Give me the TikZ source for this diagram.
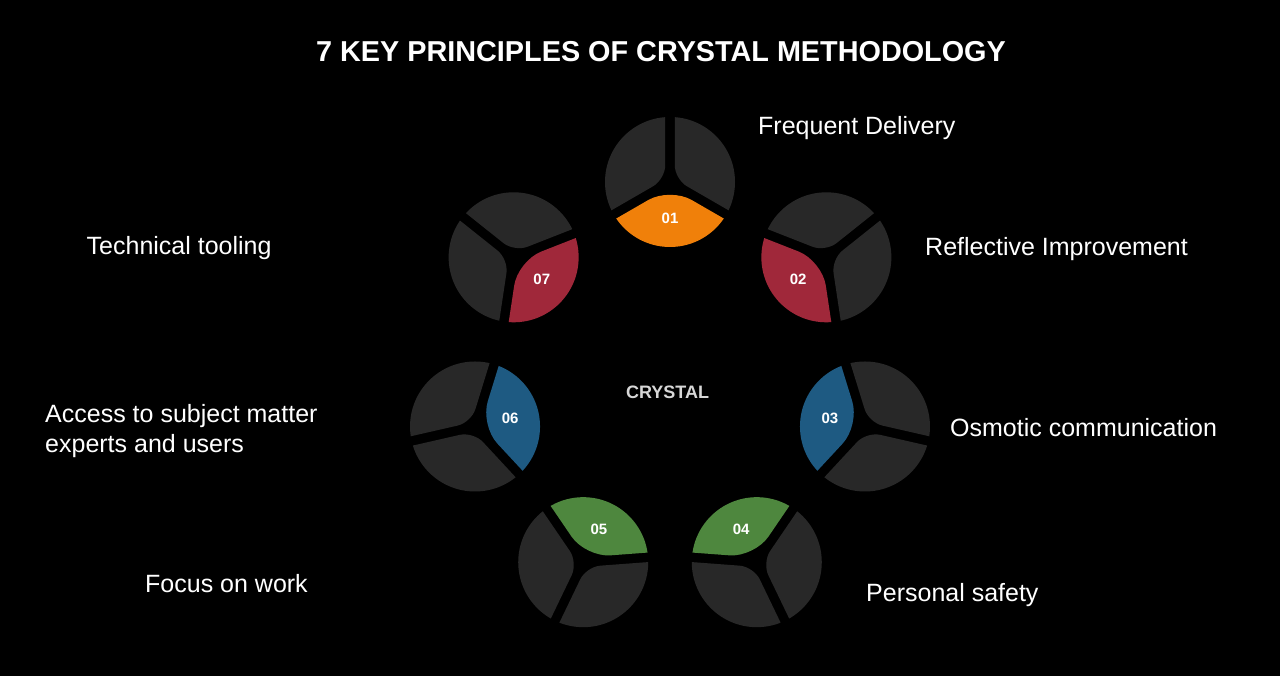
\documentclass[tikz,border=0pt]{standalone}
\usepackage{fontspec}
\setmainfont{Liberation Sans}
\usetikzlibrary{calc}
\definecolor{corange}{RGB}{240,128,10}
\definecolor{cred}{RGB}{160,40,58}
\definecolor{cblue}{RGB}{30,90,130}
\definecolor{cgreen}{RGB}{78,135,62}
\definecolor{cdark}{RGB}{40,40,40}
\definecolor{clight}{RGB}{215,215,215}
\begin{document}
\begin{tikzpicture}[x=1pt,y=1pt,
  lbl/.style={anchor=base west,inner sep=0pt,text=white,font=\fontsize{25}{30}\selectfont},
  num/.style={inner sep=0pt,text=white,font=\bfseries\fontsize{15}{18}\selectfont},
  ttl/.style={anchor=base,inner sep=0pt,text=white,font=\bfseries\fontsize{28.8}{34}\selectfont},
  hub/.style={anchor=base,inner sep=0pt,text=clight,font=\bfseries\fontsize{18}{22}\selectfont}]
\fill[black] (0,0) rectangle (1280,676);
\useasboundingbox (0,0) rectangle (1280,676);
\coordinate (C) at (670,294);
\foreach \k/\col in {1/corange,2/cred,3/cblue,4/cgreen,5/cgreen,6/cblue,7/cred} {
  \pgfmathsetmacro\myth{90-(\k-1)*360/7}
  \pgfmathsetmacro\myph{\myth+180}
  \coordinate (c\k) at ($(C)+(\myth:200)$);
  \begin{scope}
    \clip (c\k) circle (65);
    \foreach \b/\fc/\rc in {0/\col/25,120/cdark/14,240/cdark/14} {
      \pgfmathsetmacro\bb{\myph+\b}
      \coordinate (a) at ($(c\k)+(\bb:5.5)$);
      \fill[fill=\fc, rounded corners=\rc pt] ($(a)+(\bb-60:200)$) -- (a) -- ($(a)+(\bb+60:200)$) -- ($(a)+(\bb:300)$) -- cycle;
    }
  \end{scope}
  \node[num] (n\k) at ($(C)+(\myth:164)$) {0\k};
}
\node[ttl] (title) at (661,614) {7 KEY PRINCIPLES OF CRYSTAL METHODOLOGY};
\node[hub] (hub) at (667.5,277.4) {CRYSTAL};
\node[lbl] (l1) at (758,541.7) {Frequent Delivery};
\node[lbl] (l2) at (925,420.3) {Reflective Improvement};
\node[lbl] (l3) at (950,239) {Osmotic communication};
\node[lbl] (l4) at (866,74) {Personal safety};
\node[lbl] (l5) at (145,83) {Focus on work};
\node[lbl] (l6a) at (45,253) {Access to subject matter};
\node[lbl] (l6b) at (45,223) {experts and users};
\node[lbl] (l7) at (86.5,421) {Technical tooling};
\end{tikzpicture}
\end{document}
